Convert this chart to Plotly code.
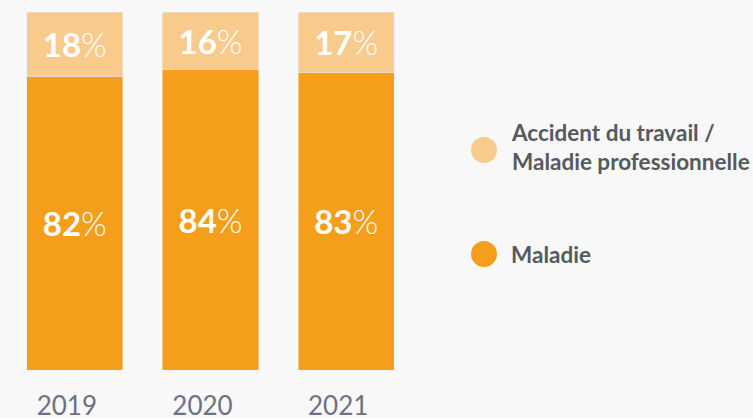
import plotly.graph_objects as go

years = ["2019", "2020", "2021"]
accident = [18, 16, 17]
maladie = [82, 84, 83]
legend_labels = ["Accident du travail /<br>Maladie professionnelle", "Maladie"]

DARK = "#F49E1C"
LIGHT = "#F8CA8C"
BG = "#F8F8F8"

W, H = 753, 418
L, R, T, B = 7, 414, 12, 370  # plot area in px


def px(x):
    return (x - L) / (R - L)


def py(y):
    return (B - y) / (B - T)


fig = go.Figure()
fig.add_trace(go.Bar(
    x=years, y=maladie, name="Maladie", marker_color=DARK,
    texttemplate="<b>%{y}</b>%", textposition="inside", insidetextanchor="middle",
    textfont=dict(family="Lato", size=33, color="white", weight=300),
    hoverinfo="skip", showlegend=False,
))
fig.add_trace(go.Bar(
    x=years, y=accident, name="Accident du travail / Maladie professionnelle",
    marker_color=LIGHT,
    texttemplate="<b>%{y}</b>%", textposition="inside", insidetextanchor="middle",
    textfont=dict(family="Lato", size=33, color="white", weight=300),
    hoverinfo="skip", showlegend=False,
))

shapes = []
annotations = []
for (cy, col, ty), lab in zip([(150, LIGHT, 146.5), (254, DARK, 254)], legend_labels):
    shapes.append(dict(type="circle", xref="paper", yref="paper",
                       x0=px(484 - 13), x1=px(484 + 13), y0=py(cy + 13), y1=py(cy - 13),
                       fillcolor=col, line=dict(width=0)))
    annotations.append(dict(xref="paper", yref="paper", x=px(509), y=py(ty),
                            xanchor="left", yanchor="middle", align="left",
                            text="<b>" + lab + "</b>", showarrow=False,
                            font=dict(family="Lato", size=22.5, color="#555A5E")))

fig.update_layout(
    barmode="stack", bargap=0.29,
    width=W, height=H,
    margin=dict(l=L, r=W - R, t=T, b=H - B, pad=0, autoexpand=False),
    paper_bgcolor=BG, plot_bgcolor=BG,
    xaxis=dict(showgrid=False, zeroline=False, showline=False, ticks="",
               automargin=False,
               tickfont=dict(family="Lato", size=26, color="#6C7183"),
               ticklabelshift=-8, ticklabelstandoff=18, fixedrange=True),
    yaxis=dict(range=[0, 100], visible=False, fixedrange=True, automargin=False),
    shapes=shapes, annotations=annotations,
    showlegend=False,
)

fig.write_html("out.html", config={"displayModeBar": False},
               post_script="document.body.style.margin='0';")
